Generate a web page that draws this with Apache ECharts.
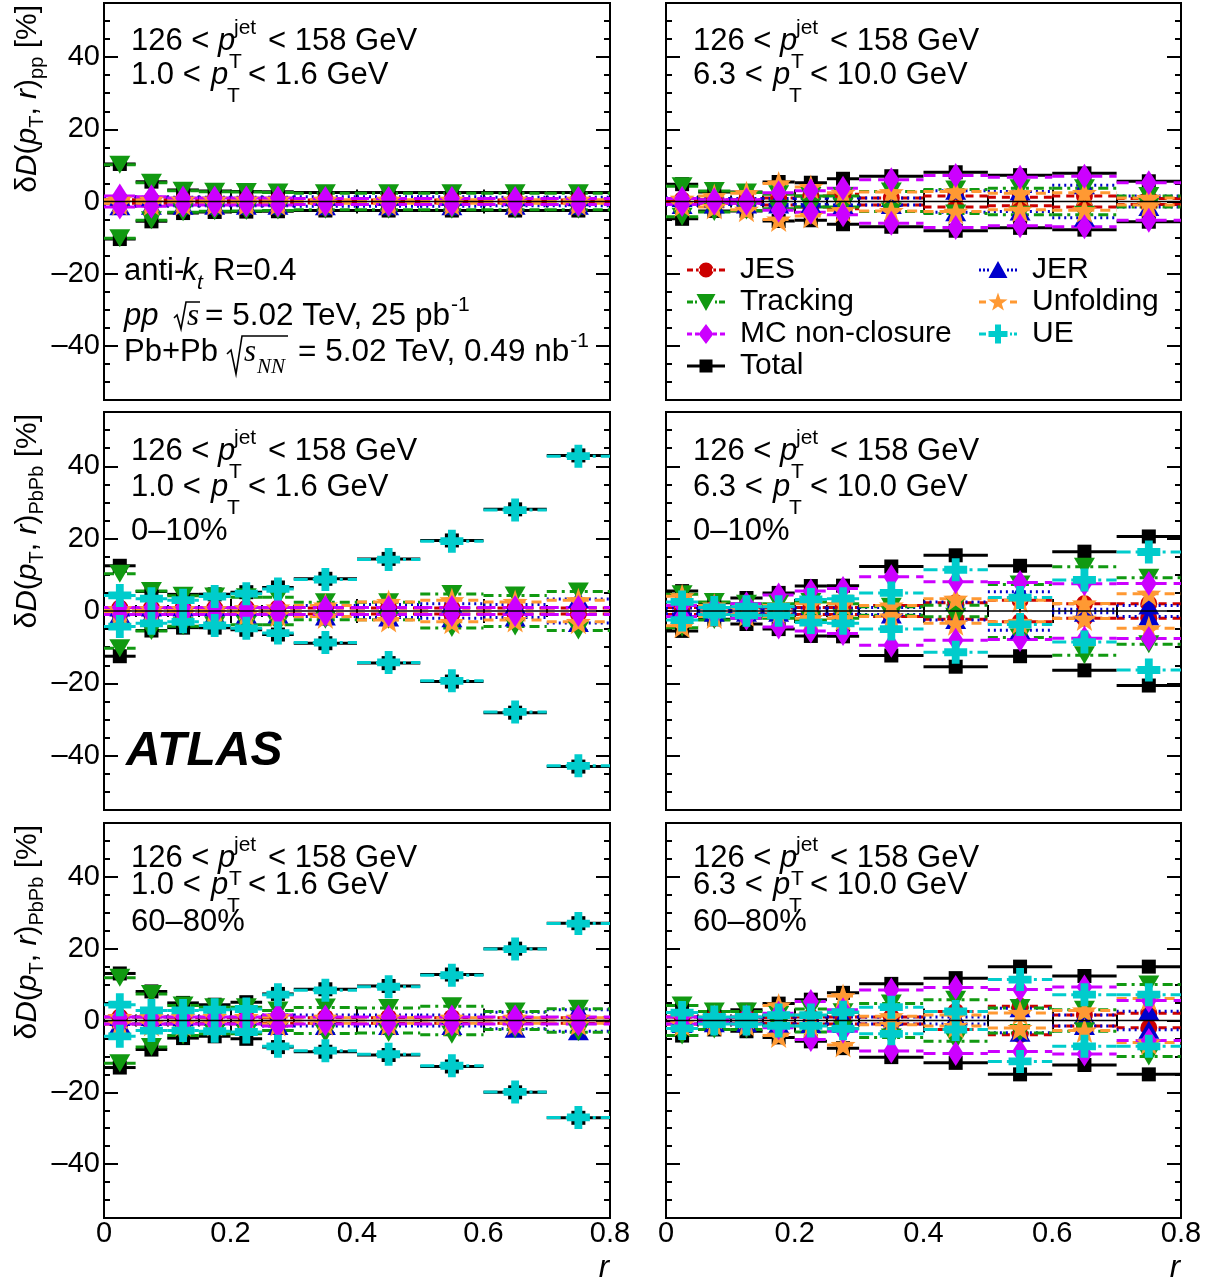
<!DOCTYPE html>
<html><head><meta charset="utf-8">
<script src="https://cdn.jsdelivr.net/npm/echarts@6/dist/echarts.min.js"></script>
<style>html,body{margin:0;padding:0;background:#fff}#c{width:1222px;height:1284px}</style>
</head><body><div id="c"></div>
<script>
// ---------------- DATA ----------------
const binLo     = [0, 0.05, 0.1, 0.15, 0.2, 0.25, 0.3, 0.4, 0.5, 0.6, 0.7];
const binHi     = [0.05, 0.1, 0.15, 0.2, 0.25, 0.3, 0.4, 0.5, 0.6, 0.7, 0.8];
const binCenter = [0.025, 0.075, 0.125, 0.175, 0.225, 0.275, 0.35, 0.45, 0.55, 0.65, 0.75];
const xTickLabels = [0, 0.2, 0.4, 0.6, 0.8];
const yTickLabels = [-40, -20, 0, 20, 40];

// pp, 1.0 < pT < 1.6 GeV
const ppLowTotal = [10.4, 5.5, 3.2, 2.9, 2.8, 2.7, 2.5, 2.5, 2.5, 2.5, 2.5];
const ppLowJES   = [0.5, 0.5, 0.4, 0.4, 0.4, 0.4, 0.4, 0.4, 0.4, 0.4, 0.4];
const ppLowJER   = [1.3, 1.2, 1.2, 1.2, 1.2, 1.2, 1.3, 1.3, 1.3, 1.2, 1.2];
const ppLowTrk   = [10.2, 5.2, 3.0, 2.7, 2.6, 2.5, 2.3, 2.3, 2.3, 2.3, 2.3];
const ppLowUnf   = [0.5, 0.5, 0.5, 0.5, 0.5, 0.5, 0.5, 0.5, 0.5, 0.5, 0.5];
const ppLowMC    = [1.5, 1.3, 1.0, 1.0, 1.0, 1.0, 0.8, 0.8, 0.8, 0.8, 0.8];

// pp, 6.3 < pT < 10.0 GeV
const ppHighTotal = [4.8, 2.6, 2.6, 5.4, 5.2, 6.3, 7.0, 8.1, 7.3, 7.8, 5.6];
const ppHighJES   = [0.5, 0.5, 0.5, 1.0, 1.5, 2.0, 1.0, 1.5, 1.2, 1.5, 0.8];
const ppHighJER   = [1.0, 0.8, 0.8, 0.8, 0.8, 1.0, 1.0, 3.0, 2.8, 4.5, 1.5];
const ppHighTrk   = [4.2, 2.9, 2.5, 2.0, 1.5, 1.5, 2.8, 3.3, 3.7, 3.7, 1.5];
const ppHighUnf   = [0.8, 1.5, 2.3, 5.0, 4.0, 2.4, 2.6, 2.8, 2.3, 2.4, 1.0];
const ppHighMC    = [0.8, 0.5, 0.5, 2.4, 3.0, 3.7, 6.0, 7.2, 6.7, 7.0, 5.2];

// Pb+Pb 0-10%, 1.0 < pT < 1.6 GeV
const c0LowTotal = [12.5, 5.4, 4.6, 4.6, 5.2, 6.5, 8.9, 14.4, 19.5, 28.1, 43.0];
const c0LowJES   = [0.8, 0.8, 0.8, 0.8, 0.8, 0.8, 0.8, 0.8, 0.8, 0.8, 0.8];
const c0LowJER   = [1.0, 1.0, 1.0, 1.0, 1.0, 1.0, 1.5, 1.8, 2.0, 1.8, 3.3];
const c0LowTrk   = [10.3, 5.5, 4.2, 4.0, 3.8, 3.8, 2.4, 2.4, 4.7, 4.3, 5.4];
const c0LowUnf   = [0.5, 0.5, 0.5, 0.5, 0.8, 1.0, 1.5, 2.5, 3.0, 2.5, 3.0];
const c0LowMC    = [1.0, 1.0, 1.0, 1.0, 1.0, 1.0, 1.0, 1.0, 1.0, 1.0, 1.0];
const c0LowUE    = [4.3, 3.4, 3.0, 4.0, 4.8, 6.1, 8.7, 14.2, 19.3, 27.9, 42.8];

// Pb+Pb 0-10%, 6.3 < pT < 10.0 GeV
const c0HighTotal = [5.5, 2.3, 3.6, 5.0, 6.9, 7.0, 12.3, 15.4, 12.5, 16.4, 20.6];
const c0HighJES   = [1.0, 0.8, 0.8, 0.8, 1.0, 1.0, 1.5, 2.3, 3.0, 2.0, 2.0];
const c0HighJER   = [0.8, 0.5, 0.5, 0.5, 0.8, 0.8, 1.0, 2.5, 5.3, 0.5, 1.5];
const c0HighTrk   = [4.6, 2.5, 2.0, 2.0, 2.5, 2.0, 1.2, 1.6, 7.3, 12.2, 9.2];
const c0HighUnf   = [4.1, 1.5, 1.0, 1.5, 2.0, 2.0, 1.5, 3.4, 3.0, 2.1, 4.8];
const c0HighMC    = [1.5, 1.0, 2.0, 4.4, 5.5, 6.2, 9.5, 8.1, 7.9, 7.5, 7.6];
const c0HighUE    = [2.5, 1.0, 1.2, 1.2, 3.2, 3.4, 5.0, 11.4, 3.7, 8.6, 16.3];

// Pb+Pb 60-80%, 1.0 < pT < 1.6 GeV
const c60LowTotal = [13.1, 8.1, 4.9, 4.4, 5.1, 7.4, 8.7, 9.6, 12.8, 20.0, 27.1];
const c60LowJES   = [1.0, 1.0, 0.8, 0.8, 0.8, 0.8, 0.8, 0.8, 0.8, 0.8, 0.8];
const c60LowJER   = [1.0, 1.0, 1.0, 1.0, 1.0, 1.5, 1.5, 1.5, 1.5, 2.3, 3.0];
const c60LowTrk   = [11.9, 7.4, 4.2, 3.7, 3.7, 2.8, 3.6, 3.5, 4.0, 2.5, 3.3];
const c60LowUnf   = [1.0, 1.0, 1.0, 1.0, 1.0, 1.0, 0.8, 0.8, 0.8, 0.8, 0.8];
const c60LowMC    = [1.0, 1.0, 1.0, 1.0, 1.0, 1.5, 1.0, 1.0, 1.0, 1.0, 1.0];
const c60LowUE    = [4.4, 2.8, 2.8, 3.0, 3.2, 7.2, 8.4, 9.4, 12.6, 19.9, 27.0];

// Pb+Pb 60-80%, 6.3 < pT < 10.0 GeV
const c60HighTotal = [4.2, 2.5, 3.0, 4.7, 5.8, 7.7, 10.2, 11.8, 15.0, 12.4, 15.0];
const c60HighJES   = [1.0, 0.8, 0.8, 0.8, 1.0, 1.0, 1.0, 2.5, 4.0, 1.5, 2.0];
const c60HighJER   = [1.0, 0.8, 0.8, 1.0, 1.0, 1.0, 1.0, 1.0, 3.4, 1.5, 2.6];
const c60HighTrk   = [4.2, 2.5, 2.5, 1.5, 3.2, 2.3, 4.7, 5.8, 3.5, 3.0, 10.0];
const c60HighUnf   = [1.0, 1.0, 1.0, 4.2, 1.5, 6.8, 1.2, 1.5, 2.1, 2.8, 6.1];
const c60HighMC    = [1.0, 0.5, 1.0, 2.0, 5.3, 3.0, 8.5, 9.2, 8.6, 9.3, 5.6];
const c60HighUE    = [2.2, 1.0, 1.0, 1.5, 1.5, 2.3, 3.7, 2.5, 11.4, 7.2, 7.2];

const jetLabel   = ['126 <', '< 158 GeV'];
const trkLabels  = [['1.0 <', '< 1.6 GeV'], ['6.3 <', '< 10.0 GeV']];
const centLabels = [null, '0\u201310%', '60\u201380%'];

// ---------------- STYLE / LAYOUT ----------------
const FONT = '"Liberation Sans", Arial, Helvetica, sans-serif';
const SERIF = '"Liberation Serif", "Times New Roman", serif';
function starPath(cx, cy, R, r) {
  let d = '';
  for (let k = 0; k < 10; k++) {
    const a = -Math.PI / 2 + k * Math.PI / 5, rad = k % 2 ? r : R;
    d += (k ? 'L' : 'M') + (cx + rad * Math.cos(a)).toFixed(2) + ',' + (cy + rad * Math.sin(a)).toFixed(2);
  }
  return d + 'Z';
}
const STAR = 'path://' + starPath(50, 50, 50, 20);
const CROSS = 'path://M33,0H67V33H100V67H67V100H33V67H0V33H33Z';

const SYS = {
  'Total':          {color: '#000000', dash: 'solid',       symbol: 'rect',     size: 14,       rotate: 0},
  'JES':            {color: '#cc0000', dash: [8, 6],         symbol: 'circle',   size: 17,       rotate: 0},
  'JER':            {color: '#0000cc', dash: [2, 4],         symbol: 'triangle', size: [21, 18], rotate: 0},
  'Tracking':       {color: '#119911', dash: [10, 5, 3, 5],  symbol: 'triangle', size: [21, 18], rotate: 180},
  'Unfolding':      {color: '#ff9933', dash: [10, 6],        symbol: STAR,       size: 25,       rotate: 0},
  'MC non-closure': {color: '#cc00ff', dash: [12, 7],        symbol: 'diamond',  size: [16, 25], rotate: 0},
  'UE':             {color: '#00cccc', dash: [14, 5, 3, 5],  symbol: CROSS,      size: 23,       rotate: 0}
};
const ORDER = ['Total', 'JES', 'JER', 'Tracking', 'Unfolding', 'MC non-closure', 'UE'];

const panels = [
  {row: 0, col: 0, data: {'Total': ppLowTotal, 'JES': ppLowJES, 'JER': ppLowJER, 'Tracking': ppLowTrk, 'Unfolding': ppLowUnf, 'MC non-closure': ppLowMC}},
  {row: 0, col: 1, data: {'Total': ppHighTotal, 'JES': ppHighJES, 'JER': ppHighJER, 'Tracking': ppHighTrk, 'Unfolding': ppHighUnf, 'MC non-closure': ppHighMC}},
  {row: 1, col: 0, data: {'Total': c0LowTotal, 'JES': c0LowJES, 'JER': c0LowJER, 'Tracking': c0LowTrk, 'Unfolding': c0LowUnf, 'MC non-closure': c0LowMC, 'UE': c0LowUE}},
  {row: 1, col: 1, data: {'Total': c0HighTotal, 'JES': c0HighJES, 'JER': c0HighJER, 'Tracking': c0HighTrk, 'Unfolding': c0HighUnf, 'MC non-closure': c0HighMC, 'UE': c0HighUE}},
  {row: 2, col: 0, data: {'Total': c60LowTotal, 'JES': c60LowJES, 'JER': c60LowJER, 'Tracking': c60LowTrk, 'Unfolding': c60LowUnf, 'MC non-closure': c60LowMC, 'UE': c60LowUE}},
  {row: 2, col: 1, data: {'Total': c60HighTotal, 'JES': c60HighJES, 'JER': c60HighJER, 'Tracking': c60HighTrk, 'Unfolding': c60HighUnf, 'MC non-closure': c60HighMC, 'UE': c60HighUE}}
];

const colLeft = [104, 666], colWidth = [506, 515];
const rowTop = [3, 412, 823], rowHeight = [397, 398, 395];

const grids = [], xAxes = [], yAxes = [], series = [], graphics = [];
const tickStyle = {color: '#000', width: 2};
function fmtX(v) { return v === 0 ? '0' : String(+v.toFixed(1)); }
function fmtY(v) { if (Math.abs(v % 20) > 1e-9) return ''; return v < 0 ? '\u2013' + Math.abs(v) : String(v); }

panels.forEach((p, g) => {
  grids.push({left: colLeft[p.col], top: rowTop[p.row], width: colWidth[p.col], height: rowHeight[p.row],
    show: true, borderColor: '#000', borderWidth: 2, backgroundColor: 'transparent', containLabel: false});
  ['bottom', 'top'].forEach(pos => {
    xAxes.push({gridIndex: g, type: 'value', position: pos, min: 0, max: 0.8, interval: 0.2,
      axisLine: {show: false}, splitLine: {show: false},
      axisTick: {show: true, inside: true, length: 12, lineStyle: tickStyle},
      minorTick: {show: true, splitNumber: 4, length: 6, lineStyle: tickStyle},
      axisLabel: {show: pos === 'bottom' && p.row === 2, fontSize: 29, fontFamily: FONT, color: '#000', margin: 1, formatter: fmtX}});
  });
  ['left', 'right'].forEach(pos => {
    yAxes.push({gridIndex: g, type: 'value', position: pos, min: -55, max: 55, interval: 5,
      axisLine: {show: false}, splitLine: {show: false},
      axisTick: {show: true, inside: true, length: 6, lineStyle: tickStyle},
      axisLabel: {show: pos === 'left' && p.col === 0, fontSize: 29, fontFamily: FONT, color: '#000', margin: 4, formatter: fmtY}});
    yAxes.push({gridIndex: g, type: 'value', position: pos, min: -55, max: 55, interval: 5,
      axisLine: {show: false}, splitLine: {show: false},
      axisTick: {show: true, inside: true, length: 14, lineStyle: tickStyle, customValues: yTickLabels},
      axisLabel: {show: false}});
  });
  const xi = 2 * g, yi = 4 * g;
  ORDER.forEach(name => {
    const vals = p.data[name];
    if (!vals) return;
    const st = SYS[name];
    series.push({
      type: 'custom', name: name + ' bars', xAxisIndex: xi, yAxisIndex: yi, silent: true, clip: true,
      itemStyle: {color: st.color},
      encode: {x: [0, 1], y: 2},
      data: vals.map((v, i) => [binLo[i], binHi[i], v]),
      renderItem: (params, api) => {
        const lo = api.value(0), hi = api.value(1), v = api.value(2);
        const a = api.coord([lo, v]), b = api.coord([hi, v]);
        const c = api.coord([lo, -v]), d = api.coord([hi, -v]);
        const style = {stroke: st.color, lineWidth: 3, lineDash: st.dash === 'solid' ? null : st.dash, fill: null};
        return {type: 'group', children: [
          {type: 'line', shape: {x1: a[0], y1: a[1], x2: b[0], y2: b[1]}, style: style},
          {type: 'line', shape: {x1: c[0], y1: c[1], x2: d[0], y2: d[1]}, style: style}
        ]};
      }
    });
    const pts = [];
    vals.forEach((v, i) => { pts.push([binCenter[i], v]); pts.push([binCenter[i], -v]); });
    series.push({
      type: 'scatter', name: name, xAxisIndex: xi, yAxisIndex: yi, silent: true,
      symbol: st.symbol, symbolSize: st.size, symbolRotate: st.rotate,
      itemStyle: {color: st.color, opacity: 1}, data: pts
    });
  });
  series.push({type: 'line', name: 'zero', xAxisIndex: xi, yAxisIndex: yi, silent: true, symbol: 'none',
    lineStyle: {color: '#000', width: 1.5}, data: [[0, 0], [0.8, 0]]});
});

// ---------------- LEGEND ICONS ----------------
const PIN = 'M0,0L0.01,0L0,0.01Z M38,20L37.99,20L38,19.99Z ';
const icons = {
  'JES': 'path://' + PIN + 'M0,8.5H6V11.5H0Z M9,8.5H13V11.5H9Z M25,8.5H29V11.5H25Z M32,8.5H38V11.5H32Z M11.5,10A7.5,7.5 0 1 0 26.5,10A7.5,7.5 0 1 0 11.5,10Z',
  'Tracking': 'path://' + PIN + 'M0,8.5H6V11.5H0Z M8,8.5H10V11.5H8Z M9.5,2H28.5L19,19Z M28,8.5H30V11.5H28Z M32,8.5H38V11.5H32Z',
  'MC non-closure': 'path://' + PIN + 'M0,8.5H5V11.5H0Z M8,8.5H12V11.5H8Z M19,0L26.5,10L19,20L11.5,10Z M26,8.5H30V11.5H26Z M33,8.5H38V11.5H33Z',
  'Total': 'path://' + PIN + 'M0,8.5H38V11.5H0Z M12.5,3.5H25.5V16.5H12.5Z',
  'JER': 'path://' + PIN + 'M0,8.5H2V11.5H0Z M4,8.5H6V11.5H4Z M8,8.5H10V11.5H8Z M9.5,18L28.5,18L19,1Z M28,8.5H30V11.5H28Z M32,8.5H34V11.5H32Z M36,8.5H38V11.5H36Z',
  'Unfolding': 'path://' + PIN + 'M0,8.5H7V11.5H0Z ' + starPath(19, 10.5, 10, 4) + ' M31,8.5H38V11.5H31Z',
  'UE': 'path://' + PIN + 'M0,8.5H7V11.5H0Z M16,0.5H22V7H28.5V13H22V19.5H16V13H9.5V7H16Z M31,8.5H33V11.5H31Z M35,8.5H38V11.5H35Z'
};
function legendDef(left, names) {
  return {left: left, top: 254, orient: 'vertical', padding: 0, itemGap: 0, itemWidth: 38, itemHeight: 20,
    selectedMode: false,
    textStyle: {fontSize: 30, fontFamily: FONT, color: '#000', lineHeight: 32, padding: [0, 0, 0, 10]},
    data: names.map(n => ({name: n, icon: icons[n]}))};
}

// ---------------- TEXT ----------------
function T(x, y, text, o) {
  return {type: 'text', x: x, y: y, silent: true, z: 10,
    style: Object.assign({text: text, fill: '#000', fontSize: 31, fontFamily: FONT, align: 'left', verticalAlign: 'middle'}, o || {})};
}
function L(points) {
  return {type: 'polyline', silent: true, z: 10, shape: {points: points}, style: {stroke: '#000', lineWidth: 1.6, fill: null}};
}
const supRich = {
  n: {fontSize: 31.5, fontFamily: FONT, fill: '#000'},
  sup: {fontSize: 21, fontFamily: FONT, fill: '#000', padding: [0, 0, 22, 1]}
};
const line1Y = [41, 451, 858], line2Y = [75, 487, 885], line3Y = [null, 531, 922];
panels.forEach(p => {
  const x0 = colLeft[p.col] + 27;
  const y1 = line1Y[p.row], y2 = line2Y[p.row];
  graphics.push(T(x0, y1, jetLabel[0]));
  graphics.push(T(x0 + 87, y1, 'p', {fontStyle: 'italic'}));
  graphics.push(T(x0 + 103, y1 - 13, 'jet', {fontSize: 21}));
  graphics.push(T(x0 + 98, y1 + 21, 'T', {fontSize: 21}));
  graphics.push(T(x0 + 137, y1, jetLabel[1]));
  const tl = trkLabels[p.col];
  graphics.push(T(x0, y2, tl[0]));
  graphics.push(T(x0 + 80, y2, 'p', {fontStyle: 'italic'}));
  graphics.push(T(x0 + 96, y2 + 21, 'T', {fontSize: 21}));
  graphics.push(T(x0 + 117, y2, tl[1]));
  if (centLabels[p.row]) graphics.push(T(x0, line3Y[p.row], centLabels[p.row]));
});
// row-1 left info
graphics.push(T(124, 271, 'anti-'));
graphics.push(T(182, 271, 'k', {fontStyle: 'italic'}));
graphics.push(T(197, 283, 't', {fontStyle: 'italic', fontSize: 21}));
graphics.push(T(213, 271, 'R=0.4'));
graphics.push(T(124, 316, 'pp', {fontStyle: 'italic'}));
graphics.push(L([[174, 318], [177, 315], [181, 329], [186, 302], [200, 302]]));
graphics.push(T(187, 317, 's', {fontStyle: 'italic', fontFamily: SERIF}));
graphics.push({type: 'text', x: 205, y: 316, silent: true, z: 10,
  style: {text: '{n|= 5.02 TeV, 25 pb}{sup|-1}', rich: supRich, align: 'left', verticalAlign: 'middle'}});
graphics.push(T(124, 352, 'Pb+Pb'));
graphics.push(L([[227, 354], [231, 350], [236, 374], [242, 336], [288, 336]]));
graphics.push(T(244, 353, 's', {fontStyle: 'italic', fontFamily: SERIF}));
graphics.push(T(257, 367, 'NN', {fontStyle: 'italic', fontFamily: SERIF, fontSize: 21}));
graphics.push({type: 'text', x: 298, y: 352, silent: true, z: 10,
  style: {text: '{n|= 5.02 TeV, 0.49 nb}{sup|-1}', rich: supRich, align: 'left', verticalAlign: 'middle'}});
graphics.push(T(126, 752, 'ATLAS', {fontSize: 48, fontWeight: 'bold', fontStyle: 'italic'}));
// x-axis titles
graphics.push(T(609, 1268, 'r', {fontStyle: 'italic', align: 'right'}));
graphics.push(T(1180, 1268, 'r', {fontStyle: 'italic', align: 'right'}));
// y-axis titles
const yTitleSub = ['pp', 'PbPb', 'PbPb'];
rowTop.forEach((top, r) => {
  graphics.push({type: 'text', x: 28, y: top + 2, rotation: Math.PI / 2, silent: true, z: 10,
    style: {
      text: '{n|\u03b4}{i|D}{n|(}{i|p}{s|T}{n|, }{i|r}{n|)}{s|' + yTitleSub[r] + '}{n| [%]}',
      align: 'right', verticalAlign: 'middle', fill: '#000',
      rich: {
        n: {fontSize: 30, fontFamily: FONT, fill: '#000'},
        i: {fontSize: 30, fontFamily: FONT, fontStyle: 'italic', fill: '#000'},
        s: {fontSize: 20, fontFamily: FONT, fill: '#000', padding: [18, 0, 0, 0]}
      }
    }});
});

const chart = echarts.init(document.getElementById('c'), null, {renderer: 'canvas'});
chart.setOption({
  animation: false,
  backgroundColor: '#fff',
  grid: grids, xAxis: xAxes, yAxis: yAxes, series: series,
  legend: [legendDef(687, ['JES', 'Tracking', 'MC non-closure', 'Total']), legendDef(979, ['JER', 'Unfolding', 'UE'])],
  graphic: graphics
});
</script></body></html>
